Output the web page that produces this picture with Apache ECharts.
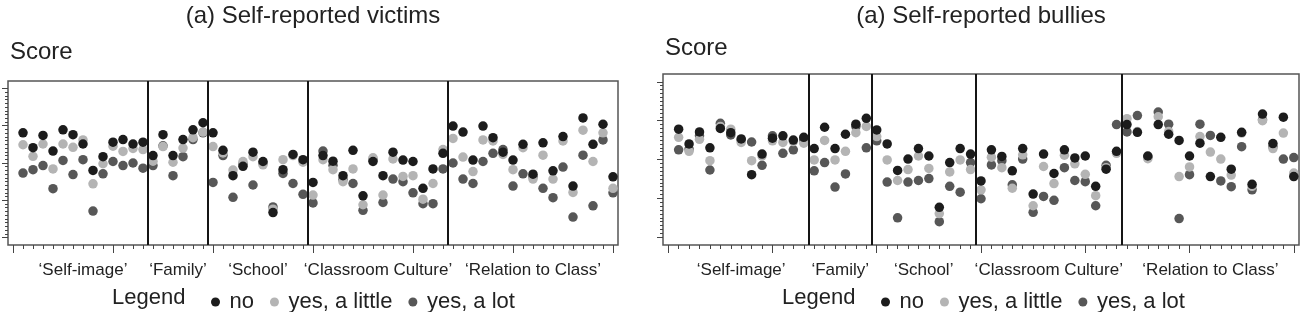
<!DOCTYPE html>
<html>
<head>
<meta charset="utf-8">
<script src="https://cdn.jsdelivr.net/npm/echarts@6/dist/echarts.min.js"></script>
<style>
  html, body { margin: 0; padding: 0; background: #fff; }
  #chart { width: 1300px; height: 312px; }
</style>
</head>
<body>
<div id="chart"></div>
<script>
// groups of items along the x axis
var groups = ['\u2018Self-image\u2019', '\u2018Family\u2019', '\u2018School\u2019', '\u2018Classroom Culture\u2019', '\u2018Relation to Class\u2019'];
var groupSizes = [13, 6, 10, 14, 17];
var seriesNames = ['no', 'yes, a little', 'yes, a lot'];
var seriesColors = ['#1c1c1c', '#b4b4b4', '#575757'];
var panelTitles = ['(a) Self-reported victims', '(a) Self-reported bullies'];

// (a) victims
var victimsNo = [2.81, 2.41, 2.74, 2.32, 2.89, 2.76, 2.51, 1.80, 2.17, 2.56, 2.63, 2.51, 2.56,
  2.20, 2.76, 2.20, 2.63, 2.89, 3.08,
  2.81, 2.34, 1.66, 1.91, 2.29, 2.04, 0.67, 1.82, 2.23, 2.09,
  1.48, 2.20, 2.05, 1.66, 2.34, 1.12, 2.04, 1.66, 2.29, 2.08, 2.04, 1.32, 1.84, 2.26,
  2.99, 2.83, 2.08, 2.99, 2.68, 2.29, 2.08, 2.50, 1.70, 2.54, 1.79, 2.71, 1.38, 3.21, 2.50, 3.04, 1.63];
var victimsLittle = [2.49, 2.18, 2.51, 1.84, 2.51, 2.42, 2.62, 1.44, 1.98, 2.45, 2.31, 2.39, 2.36,
  2.05, 2.44, 2.02, 2.40, 2.68, 2.83,
  2.44, 2.27, 1.81, 2.04, 2.17, 1.95, 0.76, 2.09, 2.20, 2.02,
  1.14, 2.09, 1.82, 1.50, 1.84, 0.88, 2.14, 1.14, 2.11, 1.64, 1.66, 1.03, 1.45, 2.36,
  2.66, 2.16, 1.77, 2.62, 2.59, 2.23, 1.82, 2.41, 1.57, 2.21, 1.57, 2.59, 1.21, 2.88, 2.04, 2.81, 1.32];
var victimsLot = [1.73, 1.82, 1.93, 1.31, 2.07, 1.69, 2.09, 0.71, 1.71, 2.04, 1.93, 2.00, 1.86,
  1.93, 2.46, 1.66, 2.17, 2.63, 2.81,
  1.48, 2.20, 1.08, 1.97, 1.41, 1.99, 0.82, 1.72, 1.45, 1.16,
  0.93, 2.32, 1.94, 1.56, 1.45, 0.73, 2.09, 0.94, 1.57, 1.50, 1.20, 0.91, 0.91, 1.84,
  2.00, 1.57, 1.45, 2.04, 2.26, 2.36, 1.38, 1.71, 1.63, 1.32, 1.07, 1.89, 0.55, 2.21, 0.85, 2.62, 1.20];

// (a) bullies
var bulliesNo = [2.78, 2.40, 2.71, 2.30, 2.80, 2.69, 2.53, 1.61, 2.14, 2.55, 2.61, 2.50, 2.57,
  2.28, 2.83, 2.28, 2.65, 2.91, 3.06,
  2.76, 2.40, 1.72, 2.01, 2.28, 2.09, 0.77, 1.92, 2.28, 2.14,
  1.45, 2.25, 2.08, 1.71, 2.28, 1.11, 2.14, 1.64, 2.25, 2.04, 2.09, 1.31, 1.75, 2.21,
  2.90, 2.70, 2.09, 2.90, 2.65, 2.49, 2.09, 2.42, 1.56, 2.57, 1.75, 2.70, 1.36, 3.17, 2.41, 3.09, 1.56];
var bulliesLittle = [2.57, 2.21, 2.52, 1.97, 2.85, 2.78, 2.44, 1.97, 2.09, 2.48, 2.44, 2.46, 2.42,
  1.99, 2.49, 1.99, 2.21, 2.69, 2.85,
  2.59, 1.99, 1.46, 1.74, 2.09, 1.77, 0.61, 1.68, 1.99, 1.74,
  1.22, 2.06, 1.79, 1.26, 2.12, 0.81, 1.82, 1.38, 2.11, 1.89, 1.62, 1.07, 1.79, 2.16,
  3.05, 2.72, 2.02, 3.10, 2.72, 1.56, 1.81, 2.59, 2.19, 2.01, 1.60, 2.68, 1.31, 3.00, 2.28, 2.68, 1.65];
var bulliesLot = [2.25, 2.27, 2.61, 1.73, 2.93, 2.63, 2.50, 2.45, 1.85, 2.61, 2.16, 2.25, 2.50,
  1.71, 1.92, 1.29, 1.63, 2.85, 2.30,
  2.48, 1.42, 0.50, 1.42, 1.46, 1.51, 0.40, 1.31, 1.16, 1.92,
  0.99, 1.86, 1.97, 1.35, 2.01, 0.64, 1.05, 0.95, 1.79, 1.46, 1.43, 0.81, 1.85, 2.90,
  2.71, 3.13, 2.06, 3.22, 2.91, 0.48, 1.61, 2.91, 2.62, 1.45, 1.30, 2.33, 1.22, 3.02, 2.33, 2.01, 2.05];

var panelData = [[victimsNo, victimsLittle, victimsLot], [bulliesNo, bulliesLittle, bulliesLot]];

// item ticks, group separators and label positions
var nItems = 60;
var xMinorTicks = [], xMajorTicks = [], yMinorTicks = [];
for (var i = 0; i <= nItems; i++) { xMinorTicks.push(i); if (i % 10 === 0) xMajorTicks.push(i); }
for (var k = 0; k <= 40; k++) yMinorTicks.push(k / 10);
var yMajorTicks = [0, 1, 2, 3, 4];
var separators = [], groupCenters = [];
var start = 1;
for (var g = 0; g < groupSizes.length; g++) {
  var end = start + groupSizes[g] - 1;
  groupCenters.push((start + end) / 2);
  if (g < groupSizes.length - 1) separators.push(end + 0.5);
  start = end + 1;
}

var FONT = 'Liberation Sans, Arial, Helvetica, sans-serif';
var panels = [
  { left: 8, width: 610, top: 81, height: 164, center: 313, scoreTop: 40, legendLeft: 206, legendWord: 112 },
  { left: 663, width: 636, top: 74, height: 171, center: 981, scoreTop: 36, legendLeft: 876, legendWord: 782 }
];

var grids = [], xAxes = [], yAxes = [], series = [], legends = [], graphics = [];
panels.forEach(function (p, pi) {
  grids.push({ left: p.left, top: p.top, width: p.width, height: p.height, show: true,
    borderColor: '#555', borderWidth: 1.5, containLabel: false });
  xAxes.push({ gridIndex: pi, type: 'value', min: -0.5, max: 60.5, position: 'bottom',
    axisLine: { show: false, onZero: false }, splitLine: { show: false },
    axisTick: { show: true, customValues: xMinorTicks, length: 4, lineStyle: { color: '#444', width: 1 } },
    axisLabel: { show: true, customValues: groupCenters, margin: 17, fontSize: 17, color: '#222', fontFamily: FONT,
      formatter: function (v) { var j = groupCenters.indexOf(v); return j >= 0 ? groups[j] : ''; } } });
  xAxes.push({ gridIndex: pi, type: 'value', min: -0.5, max: 60.5, position: 'bottom',
    axisLine: { show: false, onZero: false }, splitLine: { show: false },
    axisTick: { show: true, customValues: xMajorTicks, length: 8, lineStyle: { color: '#444', width: 1 } },
    axisLabel: { show: false } });
  yAxes.push({ gridIndex: pi, type: 'value', min: -0.2, max: 4.2, position: 'left',
    axisLine: { show: false, onZero: false }, splitLine: { show: false },
    axisTick: { show: true, customValues: yMajorTicks, length: 6, lineStyle: { color: '#444', width: 1 } },
    axisLabel: { show: false } });
  yAxes.push({ gridIndex: pi, type: 'value', min: -0.2, max: 4.2, position: 'left',
    axisLine: { show: false, onZero: false }, splitLine: { show: false },
    axisTick: { show: true, customValues: yMinorTicks, length: 3, lineStyle: { color: '#444', width: 1 } },
    axisLabel: { show: false } });

  seriesNames.forEach(function (name, si) {
    var s = {
      name: name, type: 'scatter', xAxisIndex: pi * 2, yAxisIndex: pi * 2,
      symbol: 'circle', symbolSize: 9.5, z: 4 - si,
      itemStyle: { color: seriesColors[si], opacity: 1 },
      data: panelData[pi][si].map(function (v, i) { return [i + 1, v]; })
    };
    if (si === 0) {
      s.markLine = { silent: true, symbol: 'none', label: { show: false }, animation: false,
        lineStyle: { color: '#151515', width: 2, type: 'solid' },
        data: separators.map(function (x) { return { xAxis: x }; }) };
    }
    series.push(s);
  });

  legends.push({ data: seriesNames, left: p.legendLeft, top: 286, orient: 'horizontal',
    icon: 'circle', itemWidth: 18, itemHeight: 9, itemGap: 16, selectedMode: false,
    textStyle: { fontSize: 22, color: '#222', fontFamily: FONT } });

  graphics.push({ type: 'text', x: p.center, y: 4, style: { text: panelTitles[pi], textAlign: 'center',
    fontSize: 24, fontFamily: FONT, fill: '#222' } });
  graphics.push({ type: 'text', x: p.left + 2, y: p.scoreTop, style: { text: 'Score',
    fontSize: 24, fontFamily: FONT, fill: '#222' } });
  graphics.push({ type: 'text', x: p.legendWord, y: 287, style: { text: 'Legend',
    fontSize: 22, fontFamily: FONT, fill: '#222' } });
});

var chart = echarts.init(document.getElementById('chart'), null, { renderer: 'canvas' });
chart.setOption({
  animation: false,
  backgroundColor: '#fff',
  grid: grids,
  xAxis: xAxes,
  yAxis: yAxes,
  legend: legends,
  graphic: graphics,
  series: series
});
</script>
</body>
</html>
